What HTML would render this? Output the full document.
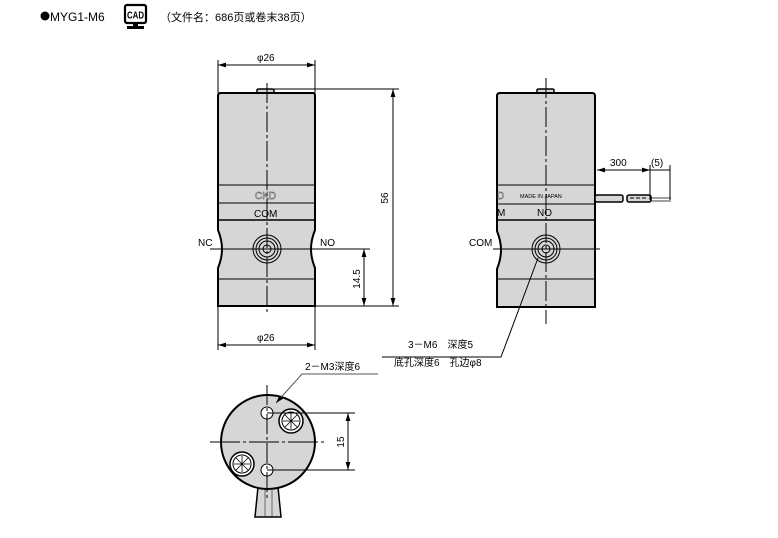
<!DOCTYPE html>
<html><head><meta charset="utf-8"><style>
html,body{margin:0;padding:0;background:#fff;}
svg{display:block;font-family:"Liberation Sans","Noto Sans CJK SC",sans-serif;}
</style></head><body>
<svg width="778" height="538" viewBox="0 0 778 538" xmlns="http://www.w3.org/2000/svg">
<defs>
<marker id="a" viewBox="0 0 10 6" refX="10" refY="3" markerWidth="8" markerHeight="5" orient="auto-start-reverse" markerUnits="userSpaceOnUse"><path d="M0,0L10,3L0,6z" fill="#000"/></marker>
</defs>
<!-- header -->
<circle cx="45" cy="16" r="4.5" fill="#000"/>
<text x="50" y="21" font-size="12">MYG1-M6</text>
<rect x="125" y="5" width="21" height="18" rx="2" fill="#fff" stroke="#000" stroke-width="2.2"/>
<text x="127" y="18.5" font-size="10" font-weight="bold" textLength="17" lengthAdjust="spacingAndGlyphs">CAD</text>
<path d="M133 23h5v3h-5zM127 26h17v3h-17z" fill="#000"/>
<text x="160" y="21" font-size="11">（文件名：686页或卷末38页）</text>

<g stroke="#000" fill="none" stroke-width="1">
<!-- LEFT VIEW -->
<path d="M257 94v-4q0-1 2-1h13q2 0 2 1v4" fill="#d6d6d6" stroke-width="1.5"/>
<path d="M221 93h92q2 0 2 3v134q-4 10-4 19t4 19v38h-97v-38q4-10 4-19t-4-19v-134q0-3 3-3z" fill="#d6d6d6" stroke-width="2"/>
<line x1="218" y1="185" x2="315" y2="185"/>
<line x1="218" y1="203" x2="315" y2="203"/>
<line x1="218" y1="220" x2="315" y2="220" stroke-width="1.5"/>
<line x1="218" y1="279" x2="315" y2="279"/>
<circle cx="267" cy="249" r="14"/><circle cx="267" cy="249" r="11"/><circle cx="267" cy="249" r="8"/><circle cx="267" cy="249" r="4"/>
<line x1="267" y1="83" x2="267" y2="312" stroke-dasharray="20,3,3,3"/>
<line x1="210" y1="249" x2="370" y2="249"/>
<!-- dims -->
<line x1="218" y1="60" x2="218" y2="93"/><line x1="315" y1="60" x2="315" y2="93"/>
<line x1="218" y1="65" x2="315" y2="65" marker-start="url(#a)" marker-end="url(#a)"/>
<line x1="218" y1="306" x2="218" y2="350"/><line x1="315" y1="306" x2="315" y2="350"/>
<line x1="218" y1="345" x2="315" y2="345" marker-start="url(#a)" marker-end="url(#a)"/>
<line x1="274" y1="89" x2="399" y2="89"/>
<line x1="315" y1="306" x2="399" y2="306"/>
<line x1="393" y1="89" x2="393" y2="306" marker-start="url(#a)" marker-end="url(#a)"/>
<line x1="364" y1="249" x2="364" y2="306" marker-start="url(#a)" marker-end="url(#a)"/>

<!-- RIGHT VIEW -->
<path d="M537 94v-4q0-1 2-1h13q2 0 2 1v4" fill="#d6d6d6" stroke-width="1.5"/>
<path d="M500 93h92q3 0 3 3v211h-98v-38q4-10 4-19t-4-19v-135q0-3 3-3z" fill="#d6d6d6" stroke-width="2"/>
<line x1="497" y1="185" x2="595" y2="185"/>
<line x1="497" y1="204" x2="595" y2="204"/>
<line x1="497" y1="220" x2="595" y2="220" stroke-width="1.5"/>
<line x1="497" y1="279" x2="595" y2="279"/>
<path d="M595 175v30" stroke-width="2"/>
<rect x="595" y="195" width="28" height="7" rx="2" fill="#d6d6d6" stroke-width="1.5"/>
<rect x="627" y="195" width="24" height="7" rx="2" fill="#d6d6d6" stroke-width="1.5"/>
<line x1="651" y1="198" x2="671" y2="198" stroke-width="0.7"/>
<line x1="651" y1="201" x2="671" y2="201" stroke-width="0.7"/>
<line x1="630" y1="198" x2="648" y2="198" stroke-dasharray="4,2"/>
<circle cx="546" cy="249" r="14"/><circle cx="546" cy="249" r="11"/><circle cx="546" cy="249" r="8"/><circle cx="546" cy="249" r="4"/>
<line x1="546" y1="78" x2="546" y2="324" stroke-dasharray="20,3,3,3"/>
<line x1="493" y1="249" x2="600" y2="249"/>
<line x1="650" y1="165" x2="650" y2="200"/><line x1="670" y1="165" x2="670" y2="200"/>
<line x1="597" y1="170" x2="650" y2="170" marker-start="url(#a)" marker-end="url(#a)"/>
<line x1="650" y1="170" x2="670" y2="170"/>
<path d="M538 258L501 357H382"/>

<!-- BOTTOM VIEW -->
<path d="M258 487l-3 30h26l-3-30z" fill="#d6d6d6" stroke-width="1.5"/>
<line x1="265" y1="490" x2="265" y2="517" stroke-width="0.5"/><line x1="272" y1="490" x2="272" y2="517" stroke-width="0.5"/>
<circle cx="268" cy="442" r="47" fill="#d6d6d6" stroke-width="2"/>
<circle cx="267" cy="413" r="6" fill="#fff"/><circle cx="267" cy="470" r="6" fill="#fff"/>
<circle cx="291" cy="421" r="12" stroke-width="1.5" fill="#fff"/><circle cx="291" cy="421" r="9"/>
<path d="M285 415l12 12M297 415l-12 12M291 413v16M283 421h16" stroke-width="0.8"/>
<circle cx="242" cy="464" r="12" stroke-width="1.5" fill="#fff"/><circle cx="242" cy="464" r="9"/>
<path d="M236 458l12 12M248 458l-12 12M242 456v16M234 464h16" stroke-width="0.8"/>
<line x1="267" y1="385" x2="267" y2="500" stroke-dasharray="20,3,3,3"/>
<line x1="210" y1="442" x2="325" y2="442" stroke-dasharray="30,3,3,3"/>
<line x1="267" y1="413" x2="355" y2="413"/><line x1="267" y1="470" x2="355" y2="470"/>
<line x1="348" y1="413" x2="348" y2="470" marker-start="url(#a)" marker-end="url(#a)"/>
<path d="M378 374H302L276 403" marker-end="url(#a)" stroke="#555"/>
</g>
<!-- texts -->
<g font-size="10" fill="#000">
<text x="257" y="61">φ26</text>
<text x="257" y="341">φ26</text>
<text x="255" y="199" font-size="10" fill="#eee" stroke="#333" stroke-width="0.4">CKD</text>
<text x="254" y="217">COM</text>
<text x="198" y="246">NC</text>
<text x="320" y="246">NO</text>
<text transform="translate(388,198) rotate(-90)" x="0" y="0" text-anchor="middle">56</text>
<text transform="translate(360,279) rotate(-90)" x="0" y="0" text-anchor="middle">14.5</text>
<text x="497" y="199" fill="#eee" stroke="#333" stroke-width="0.4">D</text>
<text x="520" y="198" font-size="5.5">MADE IN JAPAN</text>
<text x="497" y="216">M</text>
<text x="537" y="216">NO</text>
<text x="469" y="246">COM</text>
<text x="610" y="166">300</text>
<text x="651" y="166">(5)</text>
<text x="408" y="348">3－M6　深度5</text>
<text x="394" y="366">底孔深度6　孔边φ8</text>
<text x="305" y="370">2－M3深度6</text>
<text transform="translate(344,442) rotate(-90)" x="0" y="0" text-anchor="middle">15</text>
</g>
</svg>
</body></html>
